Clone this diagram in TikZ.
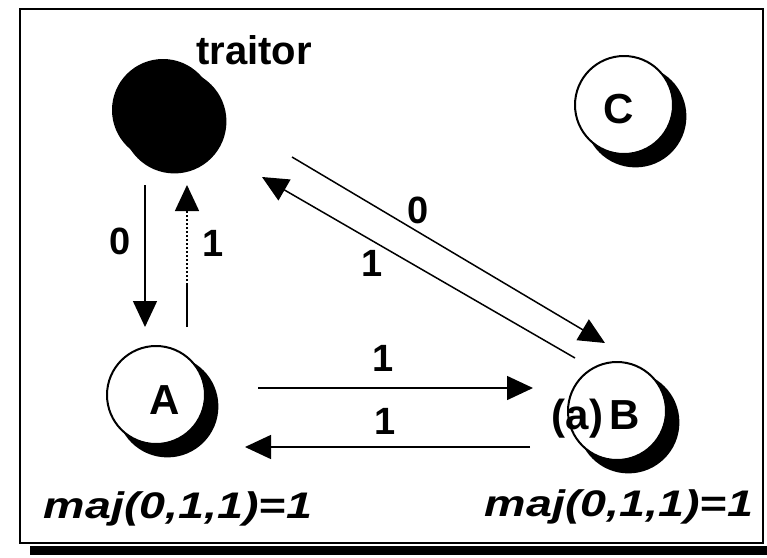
\documentclass[tikz,border=0pt]{standalone}
\usepackage{fontspec}
\setmainfont{Liberation Sans}
\usetikzlibrary{arrows.meta,calc,shadows}
\begin{document}
\begin{tikzpicture}[x=1pt,y=-1pt,
  proc/.style={circle, draw, line width=2pt, minimum size=98pt, inner sep=0pt, fill=white,
    drop shadow={shadow xshift=11pt, shadow yshift=-11pt, shadow scale=1.04, fill=black, opacity=1}},
  bad/.style={proc, fill=black, minimum size=100pt},
  arr/.style={line width=1.5pt, -{Triangle[length=26pt,width=24pt]}},
  plain/.style={line width=1.5pt},
  num/.style={inner sep=0pt, font=\fontsize{38}{40}\selectfont\bfseries},
  letter/.style={inner sep=0pt, font=\fontsize{42}{44}\selectfont\bfseries},
  majtxt/.style={inner sep=0pt, anchor=base, font=\fontsize{37}{40}\selectfont\bfseries\itshape}
]
\useasboundingbox (0,0) rectangle (767,557);
% frame
\draw[line width=2.5pt] (20,9) rectangle (763,543);
\fill (30,546) rectangle (767,555);

% processes
\node[bad]  (T) at (163,110) {};
\node[proc] (C) at (624,105) {};
\node[proc] (A) at (156,395) {};
\node[proc] (B) at (617,411) {};

\node[letter] (Clab) at (619,109) {C};
\node[letter] (Alab) at (165,400) {A};
\node[letter] (Blab) at (596,419) {(a)\,B};
\node[inner sep=0pt, font=\fontsize{40}{42}\selectfont\bfseries] (tlab) at (254,50) {traitor};

% messages
\draw[arr] ($(T)+(-18,75)$) -- ($(A)+(-11,-68)$);
\coordinate (mid) at (187,285);
\draw[plain] ($(A)+(31,-68)$) -- (mid);
\draw[arr, dash pattern=on 2pt off 2pt] (mid) -- ($(T)+(24,75)$);
\draw[arr] ($(T)+(129,47)$) -- ($(B)+(-12,-68)$);
\draw[arr] ($(B)+(-42,-53)$) -- ($(T)+(99,67)$);
\draw[arr] ($(A)+(102,-7)$) -- ($(B)+(-84,-23)$);
\draw[arr] ($(B)+(-87,36)$) -- ($(A)+(89,52)$);

\node[num] (l1) at (120,241) {0};
\node[num] (l2) at (213,243) {1};
\node[num] (l3) at (418,210) {0};
\node[num] (l4) at (372,263) {1};
\node[num] (l5) at (383,358) {1};
\node[num] (l6) at (385,421) {1};

\node[majtxt] (mA) at (178,518) {\scalebox{1.26}[1]{maj(0,1,1)=1}};
\node[majtxt] (mB) at (619,516) {\scalebox{1.26}[1]{maj(0,1,1)=1}};
\end{tikzpicture}
\end{document}
